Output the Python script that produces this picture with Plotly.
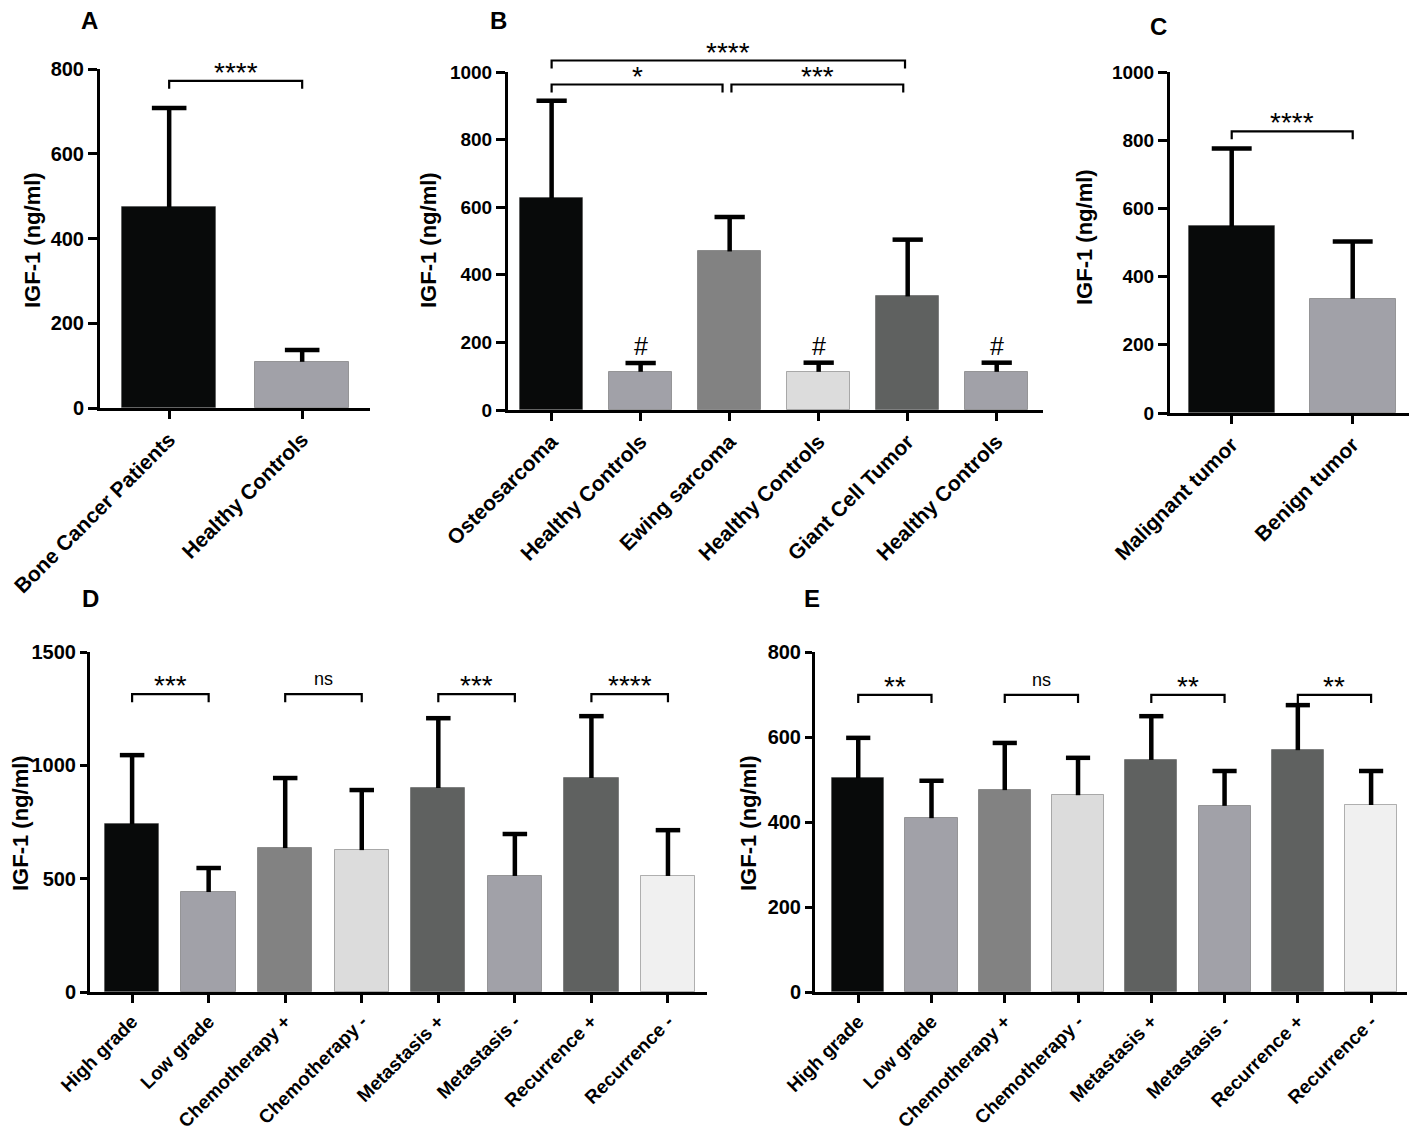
import plotly.graph_objects as go

W, H = 1417, 1134
PAD = 8  # the page body adds an 8 px margin round the figure
FW, FH = W - PAD, H - PAD
FONT = "Arial, 'Liberation Sans', sans-serif"

# ---- data (IGF-1, ng/ml): bar mean and top of error bar ----
a_groups = ["Bone Cancer Patients", "Healthy Controls"]
a_mean = [474, 109]
a_upper = [708, 137]

b_groups = ["Osteosarcoma", "Healthy Controls", "Ewing sarcoma",
            "Healthy Controls", "Giant Cell Tumor", "Healthy Controls"]
b_mean = [627, 113, 469, 113, 336, 113]
b_upper = [915, 139, 571, 140, 504, 140]

c_groups = ["Malignant tumor", "Benign tumor"]
c_mean = [547, 335]
c_upper = [776, 503]

d_groups = ["High grade", "Low grade", "Chemotherapy +", "Chemotherapy -",
            "Metastasis +", "Metastasis -", "Recurrence +", "Recurrence -"]
d_mean = [741, 441, 635, 626, 900, 512, 944, 512]
d_upper = [1045, 547, 944, 891, 1208, 697, 1217, 714]

e_groups = d_groups
e_mean = [503, 409, 475, 463, 546, 438, 569, 440]
e_upper = [598, 497, 586, 551, 649, 520, 675, 520]

# significance brackets: (from bar, to bar, height, label)
a_sig = [(0, 1, 772, "****")]
b_sig = [(0, 1.92, 963, "*"), (2.02, 3.95, 963, "***"), (0, 3.97, 1034, "****")]
c_sig = [(0, 1, 826, "****")]
d_sig = [(0, 1, 1314, "***"), (2, 3, 1314, "ns"), (4, 5, 1314, "***"), (6, 7, 1314, "****")]
e_sig = [(0, 1, 699, "**"), (2, 3, 699, "ns"), (4, 5, 699, "**"), (6, 7, 699, "**")]

b_hash_bars = [1, 3, 5]

# ---- styling ----
BLACK, LGRAY, MGRAY, PALE, DGRAY, WHITE = "#080a0a", "#a1a1a8", "#828282", "#dcdcdc", "#5f6160", "#f0f0f0"
pal6 = [BLACK, LGRAY, MGRAY, PALE, DGRAY, LGRAY]
pal8 = [BLACK, LGRAY, MGRAY, PALE, DGRAY, LGRAY, DGRAY, WHITE]

# pixel geometry of each panel (screen pixels): x extent, y extent (top, bottom), x range, y max
panels = [
    dict(key="A", groups=a_groups, mean=a_mean, upper=a_upper, sig=a_sig, colors=[BLACK, LGRAY],
         px=(100, 370), py=(69, 408), xr=(-0.52, 1.51), ymax=800, dtick=200,
         ytitle=(32, 240), letter=(89, 20), cap=0.13, xfs=21, yfs=20, ytl=9),
    dict(key="B", groups=b_groups, mean=b_mean, upper=b_upper, sig=b_sig, colors=pal6,
         px=(508, 1043), py=(72, 410), xr=(-0.49, 5.52), ymax=1000, dtick=200,
         ytitle=(428, 240), letter=(498, 20), cap=0.17, xfs=21, yfs=19, ytl=9),
    dict(key="C", groups=c_groups, mean=c_mean, upper=c_upper, sig=c_sig, colors=[BLACK, LGRAY],
         px=(1170, 1412), py=(72, 413), xr=(-0.51, 1.49), ymax=1000, dtick=200,
         ytitle=(1085, 237), letter=(1158, 27), cap=0.165, xfs=21, yfs=19, ytl=9),
    dict(key="D", groups=d_groups, mean=d_mean, upper=d_upper, sig=d_sig, colors=pal8,
         px=(90, 707), py=(652, 992), xr=(-0.55, 7.51), ymax=1500, dtick=500,
         ytitle=(20, 823), letter=(90, 598), cap=0.16, xfs=19, yfs=20, ytl=7),
    dict(key="E", groups=e_groups, mean=e_mean, upper=e_upper, sig=e_sig, colors=pal8,
         px=(815, 1407), py=(652, 992), xr=(-0.59, 7.49), ymax=800, dtick=200,
         ytitle=(748, 823), letter=(812, 598), cap=0.165, xfs=19, yfs=20, ytl=7),
]


def to_px(p, xv, yv):
    x0, x1 = p["px"]
    r0, r1 = p["xr"]
    top, bot = p["py"]
    return x0 + (xv - r0) / (r1 - r0) * (x1 - x0), bot - yv / p["ymax"] * (bot - top)


def fx(x):
    return (x - PAD) / FW


def fy(y):
    return 1 - (y - PAD) / FH


fig = go.Figure()
shapes, annotations = [], []

for i, p in enumerate(panels):
    n = "" if i == 0 else str(i + 1)
    xs = list(range(len(p["groups"])))
    fig.add_trace(go.Bar(
        x=xs, y=p["mean"], xaxis="x" + n, yaxis="y" + n, width=0.71,
        marker=dict(color=p["colors"], line=dict(color="rgba(40,40,40,0.35)", width=1)),
        showlegend=False, hoverinfo="skip"))

    # upper-only error bars (stem + cap)
    ex, ey = [], []
    for k, (m, u) in enumerate(zip(p["mean"], p["upper"])):
        ex += [k, k, None, k - p["cap"], k + p["cap"], None]
        ey += [m, u, None, u, u, None]
    fig.add_trace(go.Scatter(x=ex, y=ey, mode="lines", xaxis="x" + n, yaxis="y" + n,
                             line=dict(color="black", width=4.5), showlegend=False,
                             hoverinfo="skip"))

    fig.update_layout({
        "xaxis" + n: dict(domain=[fx(p["px"][0]), fx(p["px"][1])], anchor="y" + n,
                          range=list(p["xr"]), tickvals=xs, ticktext=p["groups"], tickangle=-45,
                          tickfont=dict(family=FONT, size=p["xfs"], color="black", weight="bold"),
                          showline=True, linecolor="black", linewidth=3, ticks="outside",
                          ticklen=8, tickwidth=3, tickcolor="black", showgrid=False,
                          zeroline=False, fixedrange=True, automargin=False),
        "yaxis" + n: dict(domain=[fy(p["py"][1]), fy(p["py"][0])], anchor="x" + n,
                          range=[0, p["ymax"]], dtick=p["dtick"],
                          tickfont=dict(family=FONT, size=p["yfs"], color="black", weight="bold"),
                          showline=True, linecolor="black", linewidth=3, ticks="outside",
                          ticklen=p["ytl"], tickwidth=3, tickcolor="black", showgrid=False,
                          zeroline=False, fixedrange=True, automargin=False),
    })

    # axis title and panel letter
    annotations.append(dict(x=fx(p["ytitle"][0]), y=fy(p["ytitle"][1]), xref="paper", yref="paper",
                            xanchor="center", yanchor="middle",
                            text="IGF-1 (ng/ml)", textangle=-90, showarrow=False,
                            font=dict(family=FONT, size=22, color="black", weight="bold")))
    annotations.append(dict(x=fx(p["letter"][0]), y=fy(p["letter"][1]), xref="paper", yref="paper",
                            xanchor="center", yanchor="middle", text=p["key"], showarrow=False,
                            font=dict(family=FONT, size=24, color="black", weight="bold")))

    # significance brackets
    for b0, b1, lvl, lab in p["sig"]:
        x0, yb = to_px(p, b0, lvl)
        x1, _ = to_px(p, b1, lvl)
        arm = yb + 8
        shapes.append(dict(type="path", xref="paper", yref="paper",
                           path=f"M {fx(x0)},{fy(arm)} L {fx(x0)},{fy(yb)} L {fx(x1)},{fy(yb)} L {fx(x1)},{fy(arm)}",
                           line=dict(color="black", width=2.2)))
        if lab == "ns":
            annotations.append(dict(x=fx((x0 + x1) / 2), y=fy(yb - 3), xref="paper", yref="paper",
                                    xanchor="center", text=lab, showarrow=False, yanchor="bottom",
                                    font=dict(family=FONT, size=18, color="black")))
        else:
            annotations.append(dict(x=fx((x0 + x1) / 2), y=fy(yb + 9), xref="paper", yref="paper",
                                    xanchor="center", text=lab, showarrow=False, yanchor="bottom",
                                    font=dict(family=FONT, size=28, color="black")))

# "#" marks just above the healthy-control error bars of panel B
pb = panels[1]
for k in b_hash_bars:
    hx, hy = to_px(pb, k, pb["upper"][k])
    annotations.append(dict(x=fx(hx), y=fy(hy - 1), xref="paper", yref="paper", text="#",
                            xanchor="center", yanchor="bottom", showarrow=False,
                            font=dict(family=FONT, size=25, color="black")))

fig.update_layout(width=FW, height=FH, margin=dict(l=0, r=0, t=0, b=0),
                  paper_bgcolor="white", plot_bgcolor="white", bargap=0,
                  shapes=shapes, annotations=annotations)

fig.write_html("out.html")
